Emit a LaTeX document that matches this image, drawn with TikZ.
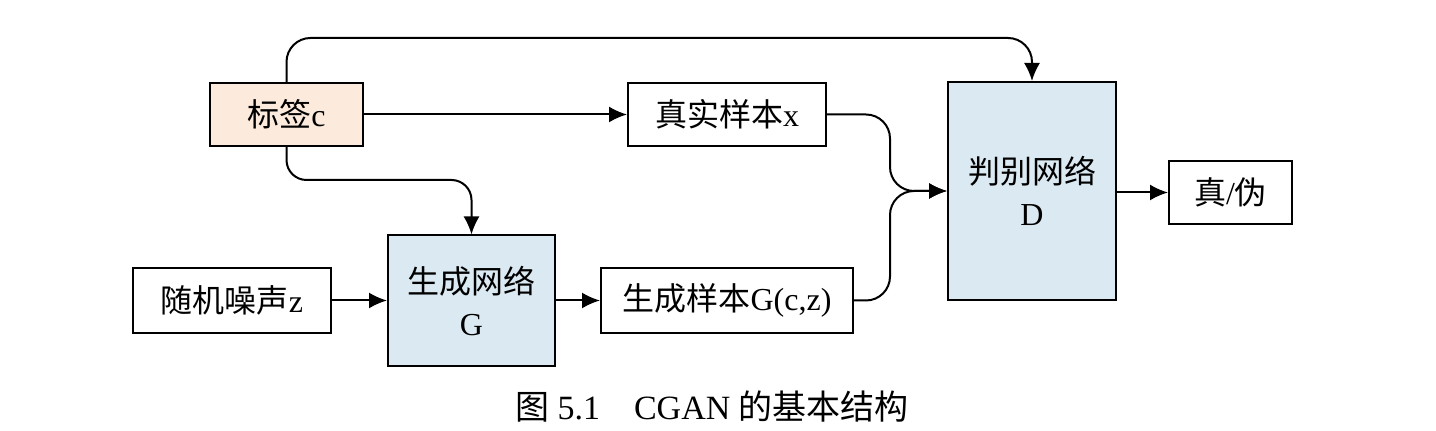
\documentclass[tikz,border=0pt]{standalone}
\usepackage{fontspec}
\setmainfont{Liberation Serif}
\newfontfamily\cjk{Noto Sans CJK SC}
\usetikzlibrary{arrows.meta}
\definecolor{tagfill}{RGB}{252,235,220}
\definecolor{netfill}{RGB}{219,234,242}

\begin{document}
\begin{tikzpicture}
[x=0.5pt,y=-0.5pt,line width=1pt,%
  >={Latex[length=9pt,width=8pt]},%
  every node/.style={font=\fontsize{16}{21}\selectfont},%
  box/.style={draw,line width=1pt,inner sep=0pt,align=center},%
  tagbox/.style={box,fill=tagfill},%
  netbox/.style={box,fill=netfill}]
\useasboundingbox (0,0) rectangle (1436,431);
% boxes
\node[tagbox,minimum width=76.5pt,minimum height=31.5pt] (tag) at (286.5,114.5) {{\cjk 标签}c};
\node[box,minimum width=99pt,minimum height=31.5pt] (real) at (727,114.5) {{\cjk 真实样本}x};
\node[box,minimum width=99pt,minimum height=32.5pt] (noise) at (232,300.5) {{\cjk 随机噪声}z};
\node[netbox,minimum width=83.5pt,minimum height=65.5pt] (gen) at (471.5,301) {{\cjk 生成网络}\\G};
\node[box,minimum width=126pt,minimum height=32.5pt] (fake) at (727,300.5) {{\cjk 生成样本}G(c,z)};
\node[netbox,minimum width=84pt,minimum height=109pt] (disc) at (1032,191) {{\cjk 判别网络}\\D};
\node[box,minimum width=61.5pt,minimum height=31.5pt] (out) at (1230.5,192.5) {{\cjk 真}/{\cjk 伪}};
\coordinate (merge) at (890,191);
% connectors
\draw[->,rounded corners=12pt] (tag.north) |- (660,38) -| (disc.north);
\draw[->] (tag.east) -- (real.west);
\draw[->,rounded corners=10pt] (tag.south) |- (380,180) -| (gen.north);
\draw[->] (noise.east) -- (noise.east -| gen.west);
\draw[->] (fake.west -| gen.east) -- (fake.west);
\draw[->,rounded corners=12pt] (real.east) -| (merge) -- (disc.west);
\draw[->,rounded corners=12pt] (fake.east) -| (merge) -- (disc.west);
\draw[->] (disc.east |- out.west) -- (out.west);
% caption
\node[font=\fontsize{17}{20}\selectfont] (cap) at (712,407) {{\cjk 图} 5.1\hspace{1em}CGAN {\cjk 的基本结构}};
\end{tikzpicture}
\end{document}
